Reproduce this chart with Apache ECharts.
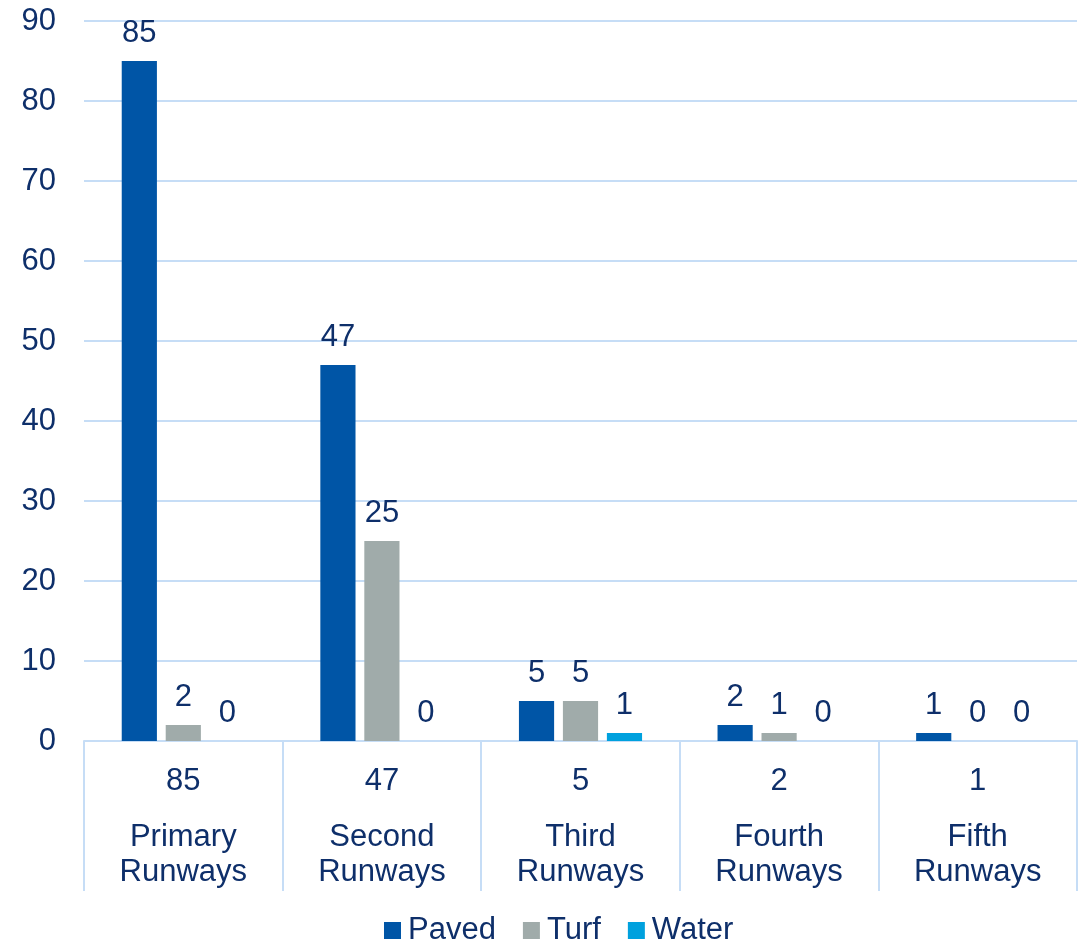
<!DOCTYPE html>
<html>
<head>
<meta charset="utf-8">
<script src="https://cdn.jsdelivr.net/npm/echarts@6/dist/echarts.min.js"></script>
<style>
  html, body { margin: 0; padding: 0; background: #fff; }
  #chart { width: 1083px; height: 942px; }
</style>
</head>
<body>
<div id="chart"></div>
<script>
// Runway counts by surface type
const categories = ['Primary\nRunways', 'Second\nRunways', 'Third\nRunways', 'Fourth\nRunways', 'Fifth\nRunways'];
const categoryTotals = [85, 47, 5, 2, 1];
const paved = [85, 47, 5, 2, 1];
const turf = [2, 25, 5, 1, 0];
const water = [0, 0, 1, 0, 0];
const yTicks = { min: 0, max: 90, interval: 10 };

const TEXT = '#0E2F6A';
const GRID = '#C6DDF6';
const FONT = 'Liberation Sans, Arial, sans-serif';
const FS = 31;

const chart = echarts.init(document.getElementById('chart'), null, { renderer: 'canvas' });

function barSeries(name, data, color) {
  return {
    name: name,
    type: 'bar',
    data: data,
    barGap: '25%',
    barCategoryGap: '38%',
    itemStyle: { color: color },
    label: {
      show: true,
      position: 'top',
      distance: 12,
      color: TEXT,
      fontFamily: FONT,
      fontSize: FS
    }
  };
}

chart.setOption({
  animation: false,
  textStyle: { fontFamily: FONT },
  grid: { left: 84, right: 6, top: 21, bottom: 201, containLabel: false },
  legend: {
    bottom: -4,
    left: 384,
    itemWidth: 17,
    itemHeight: 17,
    itemGap: 27,
    padding: 0,
    icon: 'rect',
    textStyle: { color: TEXT, fontSize: FS, fontFamily: FONT, padding: [0, 0, 0, 2] },
    data: ['Paved', 'Turf', 'Water']
  },
  xAxis: {
    type: 'category',
    data: categories,
    axisLine: { show: true, lineStyle: { color: GRID, width: 2 } },
    axisTick: { show: true, length: 150, lineStyle: { color: GRID, width: 2 } },
    axisLabel: {
      margin: 2,
      interval: 0,
      formatter: function (value, idx) {
        const parts = value.split('\n');
        return '{t|' + categoryTotals[idx] + '}\n{n|' + parts[0] + '}\n{n|' + parts[1] + '}';
      },
      rich: {
        t: { fontSize: FS, lineHeight: 77, color: TEXT, fontFamily: FONT },
        n: { fontSize: FS, lineHeight: 35, color: TEXT, fontFamily: FONT }
      }
    }
  },
  yAxis: {
    type: 'value',
    min: yTicks.min,
    max: yTicks.max,
    interval: yTicks.interval,
    axisLine: { show: false },
    axisTick: { show: false },
    splitLine: { lineStyle: { color: GRID, width: 2 } },
    axisLabel: { color: TEXT, fontSize: FS, fontFamily: FONT, margin: 28 }
  },
  series: [
    barSeries('Paved', paved, '#0055A6'),
    barSeries('Turf', turf, '#A0ABAA'),
    barSeries('Water', water, '#00A1DE')
  ]
});
</script>
</body>
</html>
